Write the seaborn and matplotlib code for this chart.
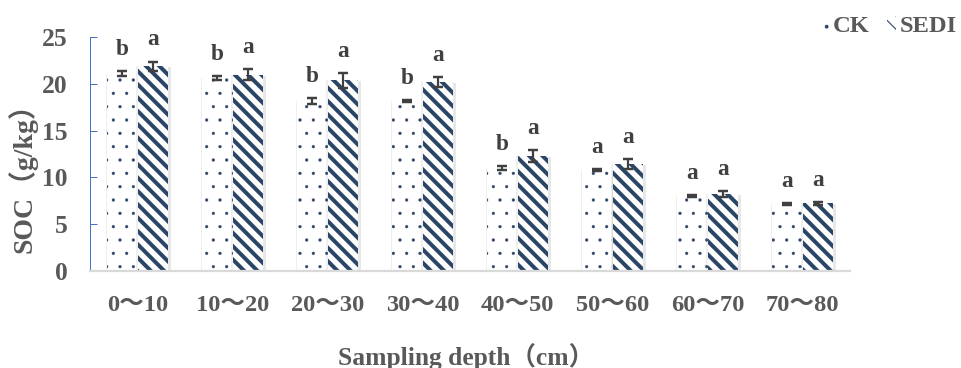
import matplotlib
matplotlib.use("Agg")
import matplotlib.pyplot as plt
import pandas as pd
import seaborn as sns
from matplotlib import patheffects as pe
from matplotlib.patches import Patch

# Soil organic carbon by sampling depth, two treatments
depths = ["0～10", "10～20", "20～30", "30～40", "40～50", "50～60", "60～70", "70～80"]
treatments = ["CK", "SEDI"]
ck_soc = [21.1, 20.6, 18.2, 18.2, 11.0, 10.8, 8.0, 7.1]
sedi_soc = [21.9, 21.0, 20.4, 20.2, 12.3, 11.4, 8.2, 7.2]
ck_err = [0.3, 0.2, 0.3, 0.1, 0.2, 0.1, 0.1, 0.1]
sedi_err = [0.5, 0.55, 0.8, 0.55, 0.65, 0.5, 0.3, 0.15]
ck_letters = ["b", "b", "b", "b", "b", "a", "a", "a"]
sedi_letters = ["a", "a", "a", "a", "a", "a", "a", "a"]
y_ticks = [0, 5, 10, 15, 20, 25]

df = pd.DataFrame({
    "depth": depths * 2,
    "treatment": ["CK"] * len(depths) + ["SEDI"] * len(depths),
    "soc": ck_soc + sedi_soc,
})

NAVY = "#2b4566"
TXT = "#595959"
DARK = "#404040"
FAM = ["Liberation Serif", "Noto Sans CJK SC"]

sns.set_theme(style="white")
plt.rcParams["font.family"] = FAM
plt.rcParams["font.weight"] = "bold"

DPI = 80
fig = plt.figure(figsize=(961 / DPI, 368 / DPI), dpi=DPI)
ax = fig.add_axes([90 / 961, 1 - 270.5 / 368, 760 / 961, 233.2 / 368])

sns.barplot(data=df, x="depth", y="soc", hue="treatment", order=depths,
            hue_order=treatments, palette={"CK": "white", "SEDI": "white"},
            width=0.65, gap=0, errorbar=None, legend=False, ax=ax,
            saturation=1)

hatches = {"CK": ".", "SEDI": "\\\\"}
hatch_lw = {"CK": 0.4, "SEDI": 3.6}
shadow = [
    pe.SimplePatchShadow(offset=(2.2, -1.0), shadow_rgbFace="#7f7f7f", alpha=0.18, hatch=None),
    pe.SimplePatchShadow(offset=(-1.0, 0.0), shadow_rgbFace="#7f7f7f", alpha=0.12, hatch=None),
    pe.Normal(),
]

errs = {"CK": ck_err, "SEDI": sedi_err}
letters = {"CK": ck_letters, "SEDI": sedi_letters}

for name, cont in zip(treatments, ax.containers):
    xs, ys = [], []
    for bar in cont:
        bar.set_hatch(hatches[name])
        bar.set_edgecolor(NAVY)
        bar.set_linewidth(0)
        if hasattr(bar, "set_hatch_linewidth"):
            bar.set_hatch_linewidth(hatch_lw[name])
        bar.set_path_effects(shadow)
        xs.append(bar.get_x() + bar.get_width() / 2)
        ys.append(bar.get_height())
    ax.errorbar(xs, ys, yerr=errs[name], fmt="none", ecolor=DARK,
                elinewidth=2.0, capsize=4.8, capthick=2.2, zorder=4)
    for x, y, e, t in zip(xs, ys, errs[name], letters[name]):
        ax.annotate(t, (x, y + e), xytext=(0, 10), textcoords="offset points",
                    ha="center", va="bottom", fontsize=21, fontweight="bold",
                    color=DARK, family=FAM)

ax.set_ylim(0, 25)
ax.set_xlim(-0.5, len(depths) - 0.5)
ax.set_yticks(y_ticks)
ax.set_yticklabels([str(v) for v in y_ticks])

for s in ("top", "right"):
    ax.spines[s].set_visible(False)
ax.spines["left"].set_color("#4472c4")
ax.spines["left"].set_linewidth(0.9)
ax.spines["bottom"].set_color("#d9d9d9")
ax.spines["bottom"].set_linewidth(2.0)

ax.tick_params(axis="y", direction="in", length=6.3, width=0.9, color="#4472c4",
               pad=20, labelsize=23, labelcolor=TXT, left=True)
ax.tick_params(axis="x", length=0, pad=22, labelsize=22, labelcolor=TXT)
for lab in ax.get_xticklabels() + ax.get_yticklabels():
    lab.set_fontweight("bold")
    lab.set_family(FAM)

ax.set_ylabel("SOC（g/kg）", fontsize=25, fontweight="bold", color=TXT, family=FAM)
ax.yaxis.label.set_va("center")
ax.yaxis.set_label_coords(-0.089, 0.425)
ax.set_xlabel("Sampling depth（cm）", fontsize=23, fontweight="bold", color=TXT, family=FAM)
ax.xaxis.label.set_va("center")
ax.xaxis.set_label_coords(0.495, -0.367)

handles = []
for name in treatments:
    h = Patch(facecolor="white", edgecolor=NAVY, hatch=hatches[name], linewidth=0)
    if hasattr(h, "set_hatch_linewidth"):
        h.set_hatch_linewidth(hatch_lw[name])
    handles.append(h)
fig.legend(handles, treatments, loc="upper right", bbox_to_anchor=(1.008, 0.99),
           ncol=2, frameon=False, handlelength=0.35, handleheight=0.5,
           handletextpad=0.15, columnspacing=0.7, borderaxespad=0.1,
           prop={"family": FAM, "weight": "bold", "size": 22},
           labelcolor=TXT)

fig.savefig("out.png", dpi=DPI, facecolor="white")
